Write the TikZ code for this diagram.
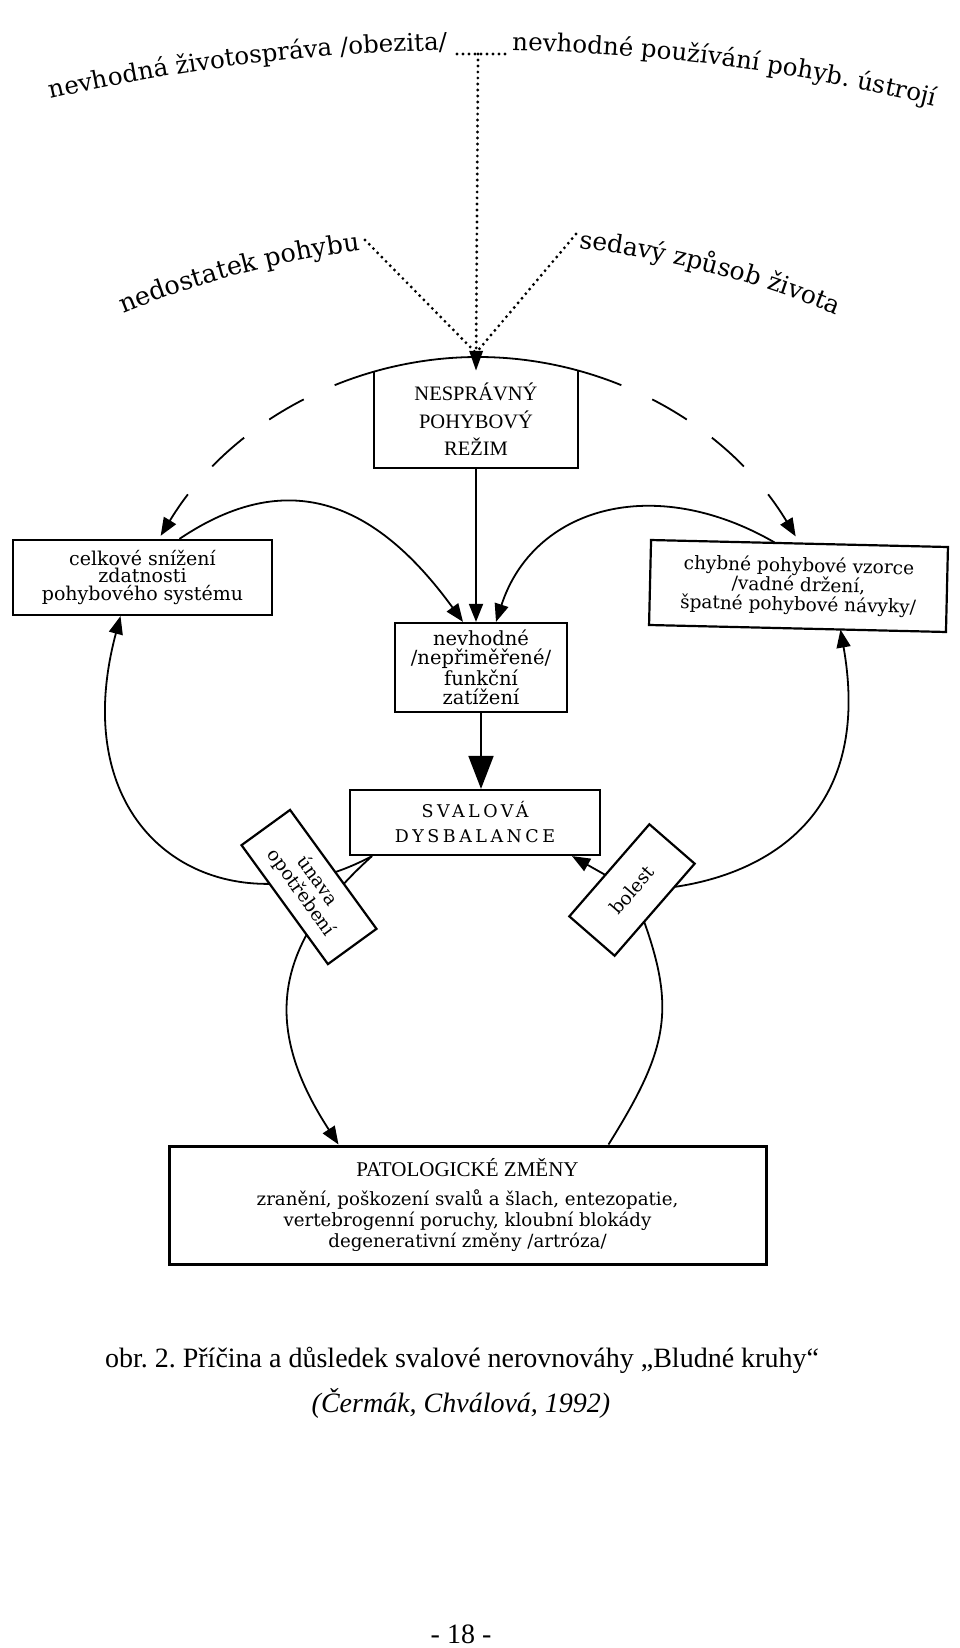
\documentclass[tikz,border=0pt]{standalone}
\usepackage{fontspec}
\setmainfont{Liberation Serif}
\newfontfamily\slab{DejaVu Serif}
\newfontfamily\slabwide[LetterSpace=20]{DejaVu Serif}
\usetikzlibrary{arrows.meta,backgrounds,decorations.text}
\frenchspacing

\tikzstyle{frame} = [line width=2.2pt]
\tikzstyle{box} = [draw, frame, fill=white, align=center, inner sep=0pt]
\tikzstyle{link} = [line width=1.8pt]
\tikzstyle{arr} = [link, -{Triangle[length=18pt,width=14pt]}]
\tikzstyle{bigarr} = [link, -{Triangle[length=33pt,width=25pt]}]
\tikzstyle{dotline} = [line width=3.2pt, line cap=round, dash pattern=on 0pt off 6pt]
\tikzstyle{dasharc} = [arr, dash pattern=on 147pt off 34pt on 40pt off 31pt on 43pt off 37pt on 200pt]
\tikzset{
  arctext/.style 2 args={
    decorate,
    decoration={text along path, text align=center,
      text={|\slab\fontsize{#1}{#1}\selectfont|#2}}
  }
}

\begin{document}
\begin{tikzpicture}[x=1pt, y=1pt]
    \def\R{371pt}
    \useasboundingbox (0,0) rectangle (960,-1648);

    \coordinate (topc) at (478,-1941);
    \coordinate (midc) at (478,-1173);
    \coordinate (hub) at (478,-728);

    % Causes
    \path[arctext={24.5}{nevhodná životospráva /obezita/}]
      ([shift={(103.2:1891pt)}]topc) arc[start angle=103.2, end angle=90.8, radius=1891pt];
    \path[arctext={24.5}{nevhodné používání pohyb. ústrojí}]
      ([shift={(89:1891pt)}]topc) arc[start angle=89, end angle=76, radius=1891pt];
    \path[arctext={25.5}{nedostatek pohybu}]
      ([shift={(112.4:930pt)}]midc) arc[start angle=112.4, end angle=97.3, radius=930pt];
    \path[arctext={25}{sedavý způsob života}]
      ([shift={(83.6:930pt)}]midc) arc[start angle=83.6, end angle=67.5, radius=930pt];

    % Boxes
    \node[box, draw=none, fill=none, minimum width=202pt, minimum height=95pt,
      font=\fontsize{20.5}{27.5}\selectfont] (rezim) at (476,-419.5) {NESPRÁVNÝ\\POHYBOVÝ\\REŽIM};
    \node[box, minimum width=172pt, minimum height=89pt,
      font=\slab\fontsize{19.5}{19.5}\selectfont] (zatiz) at (481,-667.5) {nevhodné\\/nepřiměřené/\\funkční\\zatížení};
    \node[box, minimum width=259pt, minimum height=75pt,
      font=\slab\fontsize{19}{17.5}\selectfont] (celk) at (142.5,-577.5) {celkové snížení\\zdatnosti\\pohybového systému};
    \node[box, rotate=-1.35, minimum width=297pt, minimum height=85pt,
      font=\slab\fontsize{18.5}{19.5}\selectfont] (chyb) at (798.5,-586) {chybné pohybové vzorce\\/vadné držení,\\špatné pohybové návyky/};
    \node[box, minimum width=250pt, minimum height=65pt,
      font=\slabwide\fontsize{17.5}{25}\selectfont] (sval) at (475,-822.5) {SVALOVÁ\\DYSBALANCE};
    \node[box, rotate=-54, minimum width=147pt, minimum height=60pt,
      font=\slab\fontsize{18.5}{20}\selectfont] (unava) at (309,-887) {únava\\opotřebení};
    \node[box, rotate=49, minimum width=122pt, minimum height=60pt,
      font=\slab\fontsize{18.5}{19}\selectfont] (bolest) at (632,-890) {bolest};
    \node[box, line width=3pt, minimum width=597pt, minimum height=118pt,
      font=\slab\fontsize{18.2}{21}\selectfont] (patol) at (467.5,-1205)
      {{\rmfamily\fontsize{21}{21}\selectfont PATOLOGICKÉ ZMĚNY}\\[8pt]
       zranění, poškození svalů a šlach, entezopatie,\\
       vertebrogenní poruchy, kloubní blokády\\
       degenerativní změny /artróza/};
    \draw[frame] (rezim.north west) -- (rezim.south west) -- (rezim.south east) -- (rezim.north east);

    % Dotted causes
    \coordinate (obez) at (457,-54);
    \coordinate (pouz) at (507,-54);
    \coordinate (jn) at (478,-54);
    \coordinate (lack) at (365,-240);
    \coordinate (sed) at (576,-234);
    \draw[dotline] (obez) -- (pouz);
    \draw[dotline, -{Triangle[length=20pt,width=13pt]}] (jn) -- (rezim.north);
    \draw[dotline] (lack) -- ([yshift=18pt]rezim.north);
    \draw[dotline] (sed) -- ([yshift=18pt]rezim.north);

    \begin{scope}[on background layer]
        \fill[white] (0,0) rectangle (960,-1648);

        % Dashed circle
        \draw[dasharc] ([shift={(90:\R)}]hub) arc[start angle=90, end angle=148.8, radius=\R];
        \draw[dasharc] ([shift={(90:\R)}]hub) arc[start angle=90, end angle=31.1, radius=\R];

        % Upper arrows
        \draw[arr] (rezim.south) -- (rezim.south |- zatiz.north);
        \draw[arr] ([xshift=37pt]celk.north) to[out=34, in=126, out distance=130pt, in distance=150pt] ([xshift=-18pt]zatiz.north);
        \draw[arr] ([xshift=-25pt]chyb.north) to[out=150, in=72, out distance=140pt, in distance=120pt] ([xshift=15pt]zatiz.north);
        \draw[bigarr] (zatiz.south) -- (zatiz.south |- sval.north);

        % Vicious circles
        \draw[arr] ([xshift=-103pt]sval.south) to[out=208, in=255, out distance=170pt, in distance=230pt] ([xshift=-22pt]celk.south);
        \draw[arr] ([xshift=-103pt]sval.south) to[out=222, in=123, out distance=137pt, in distance=137pt] ([xshift=-129pt]patol.north);
        \draw[arr] ([xshift=141pt]patol.north) to[out=58, in=-68, out distance=122pt, in distance=122pt] (bolest.center) -- ([xshift=97pt]sval.south);
        \draw[arr] (bolest.center) to[out=0, in=-80, out distance=90pt, in distance=220pt] ([xshift=43pt]chyb.south);
    \end{scope}

    % Caption
    \node[anchor=base, font=\fontsize{28}{32}\selectfont] (capt) at (462,-1367)
      {obr. 2. Příčina a důsledek svalové nerovnováhy „Bludné kruhy“};
    \node[anchor=base, font=\itshape\fontsize{28}{32}\selectfont] (cite) at (461,-1412)
      {(Čermák, Chválová, 1992)};
    \node[anchor=base, font=\fontsize{28}{32}\selectfont] (page) at (461,-1643) {- 18 -};
\end{tikzpicture}
\end{document}
